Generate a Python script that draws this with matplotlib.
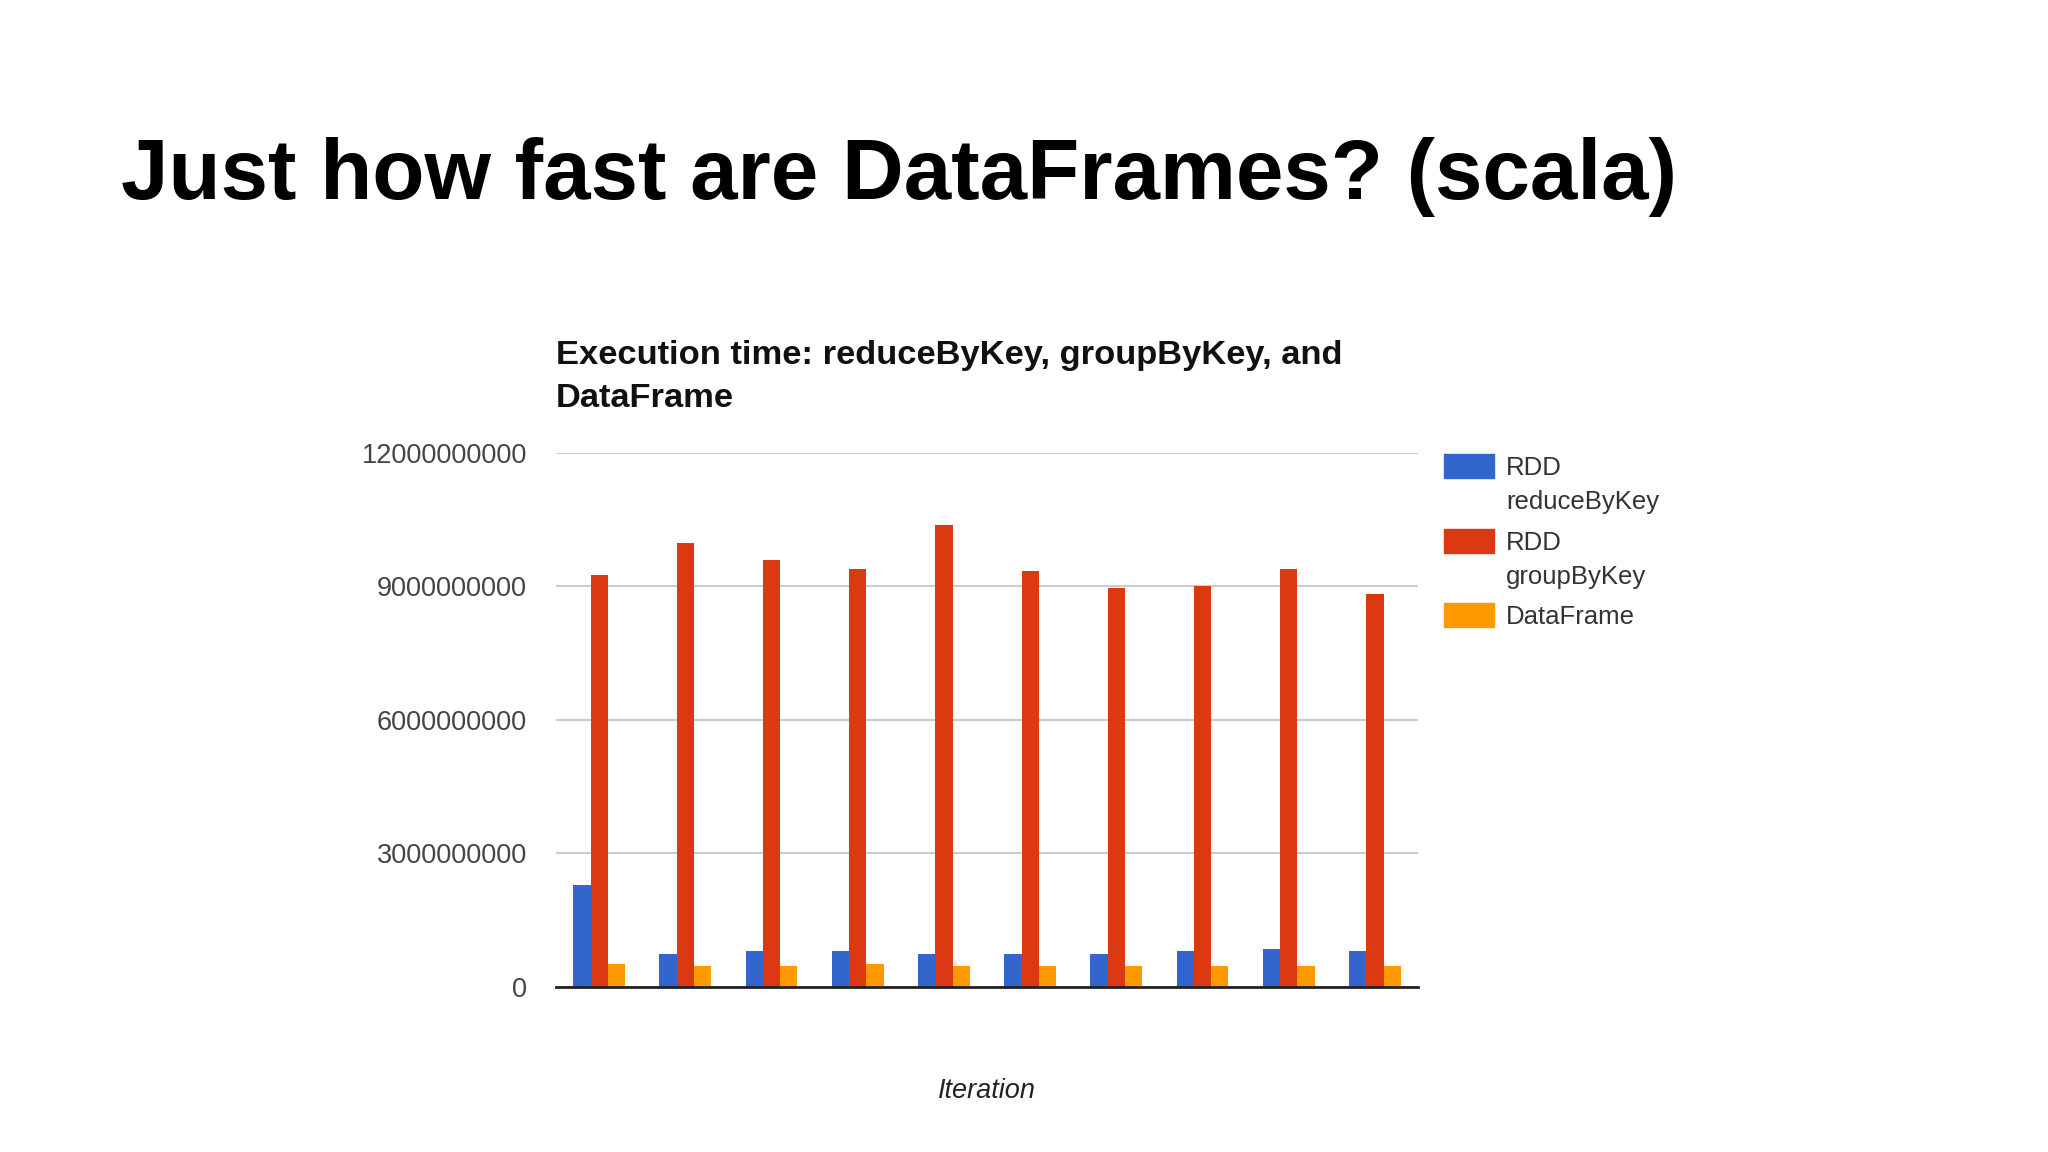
import matplotlib.pyplot as plt
import numpy as np
from matplotlib.patches import Rectangle

plt.rcParams["font.family"] = ["Liberation Sans", "DejaVu Sans"]

iterations = list(range(1, 11))
series_labels = ["RDD\nreduceByKey", "RDD\ngroupByKey", "DataFrame"]
series_colors = ["#3366cc", "#dc3912", "#ff9900"]

rdd_reduce = [2.29e9, 0.74e9, 0.80e9, 0.80e9, 0.74e9, 0.74e9, 0.74e9, 0.80e9, 0.85e9, 0.80e9]
rdd_group = [9.26e9, 9.98e9, 9.59e9, 9.40e9, 10.37e9, 9.35e9, 8.97e9, 9.02e9, 9.40e9, 8.82e9]
dataframe = [0.52e9, 0.47e9, 0.47e9, 0.52e9, 0.47e9, 0.47e9, 0.47e9, 0.47e9, 0.47e9, 0.47e9]

y_ticks = [0, 3000000000, 6000000000, 9000000000, 12000000000]

W, H = 2048, 1152
fig = plt.figure(figsize=(W / 100, H / 100), dpi=100)
fig.text(0.059, 1 - 199 / H, "Just how fast are DataFrames? (scala)", fontsize=61.5,
         fontweight="bold", color="black", ha="left", va="baseline")

ax = fig.add_axes([0.2715, 0.1435, 0.4209, 0.4633])
x = np.arange(len(iterations))
width = 0.2
for i, (vals, color) in enumerate(zip([rdd_reduce, rdd_group, dataframe], series_colors)):
    ax.bar(x + (i - 1) * width, vals, width=width, color=color, zorder=3)

ax.set_xlim(-0.5, len(iterations) - 0.5)
ax.set_ylim(0, 12e9)
ax.set_yticks(y_ticks)
ax.set_yticklabels([str(t) for t in y_ticks], fontsize=19.5, color="#444444")
ax.set_xticks([])
ax.tick_params(axis="y", length=0, pad=21)
ax.grid(axis="y", color="#cccccc", linewidth=1.5, zorder=0)
for side in ["top", "right", "left"]:
    ax.spines[side].set_visible(False)
ax.spines["bottom"].set_color("#222222")
ax.spines["bottom"].set_linewidth(2)
ax.spines["bottom"].set_zorder(4)
ax.set_xlabel("Iteration", fontsize=19.5, style="italic", color="#222222", labelpad=66)

fig.text(0.2715, 1 - 407 / H, "Execution time: reduceByKey, groupByKey, and\nDataFrame",
         fontsize=24.8, fontweight="bold", color="#111111", ha="left", va="baseline",
         linespacing=1.5)

# legend drawn by hand so swatches line up with the first text line
legend_fs = 18.5
line_gap = 34 / H
cap_half = 0.358 * legend_fs * 100 / 72 / H
swatch_centers = [466 / H, 541 / H, 615 / H]
for label, color, cy in zip(series_labels, series_colors, swatch_centers):
    yc = 1 - cy
    fig.add_artist(Rectangle((1444 / W, yc - 12 / H), 50 / W, 24 / H,
                             transform=fig.transFigure, color=color))
    for k, line in enumerate(label.split("\n")):
        fig.text(1506 / W, yc - cap_half - k * line_gap, line, fontsize=legend_fs,
                 color="#333333", ha="left", va="baseline")

fig.savefig("out.png", dpi=100, facecolor="white")
